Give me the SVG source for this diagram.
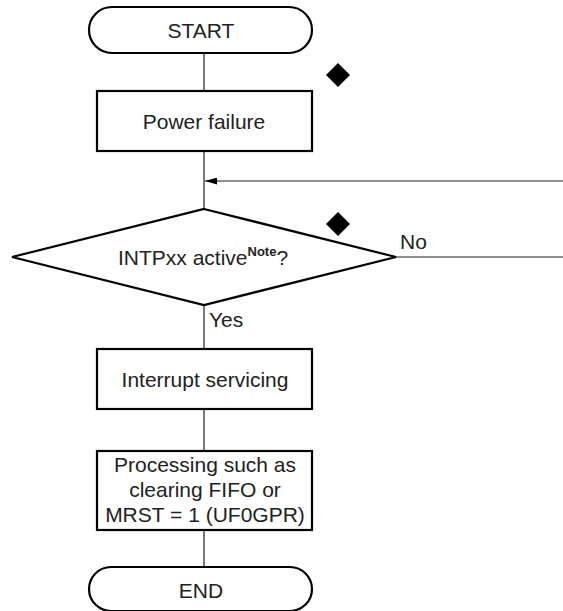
<svg xmlns="http://www.w3.org/2000/svg" width="563" height="611" viewBox="0 0 563 611">
<style>
.shape{fill:#fff;stroke:#000;stroke-width:2.2}
.conn{fill:none;stroke:#222;stroke-width:1.2}
.mark{fill:#000}
text{font-family:"Liberation Sans",Arial,sans-serif;font-size:21px;fill:#222}
.c{text-anchor:middle}
.sup{font-size:13px;font-weight:bold}
</style>
<defs>
<marker id="ah" viewBox="0 0 12 7" refX="12" refY="3.5" markerWidth="12" markerHeight="7" markerUnits="userSpaceOnUse" orient="auto">
<path d="M0,0 L12,3.5 L0,7 Z" fill="#000"/>
</marker>
</defs>
<g id="connectors">
<line class="conn" x1="204" y1="53" x2="204" y2="91"/>
<line class="conn" x1="204" y1="151" x2="204" y2="209"/>
<line class="conn" x1="563" y1="181" x2="205" y2="181" marker-end="url(#ah)"/>
<line class="conn" x1="396" y1="257" x2="563" y2="257"/>
<line class="conn" x1="204" y1="305" x2="204" y2="349"/>
<line class="conn" x1="204" y1="409" x2="204" y2="451"/>
<line class="conn" x1="204" y1="530" x2="204" y2="567"/>
<text x="400" y="249">No</text>
<text x="209" y="327">Yes</text>
</g>
<g id="start">
<rect class="shape" x="89" y="7" width="223" height="46" rx="23" ry="23"/>
<text class="c" x="201" y="38">START</text>
</g>
<g id="power-failure">
<rect class="shape" x="97" y="91" width="215" height="60"/>
<text class="c" x="204" y="129">Power failure</text>
<path class="mark" d="M338,63 L350,75 L338,87 L326,75 Z"/>
</g>
<g id="decision">
<path class="shape" d="M204,209 L396,257 L204,305 L12,257 Z"/>
<text x="118" y="265">INTPxx active<tspan class="sup" dy="-9">Note</tspan><tspan dy="9">?</tspan></text>
<path class="mark" d="M338,212 L350,224 L338,236 L326,224 Z"/>
</g>
<g id="interrupt">
<rect class="shape" x="97" y="349" width="215" height="60"/>
<text class="c" x="205" y="387">Interrupt servicing</text>
</g>
<g id="processing">
<rect class="shape" x="97" y="451" width="215" height="79"/>
<text class="c" x="205" y="472">Processing such as</text>
<text class="c" x="205" y="497">clearing FIFO or</text>
<text class="c" x="205" y="522">MRST = 1 (UF0GPR)</text>
</g>
<g id="end">
<rect class="shape" x="89" y="567" width="223" height="44" rx="22" ry="22"/>
<text class="c" x="201" y="598">END</text>
</g>
</svg>
